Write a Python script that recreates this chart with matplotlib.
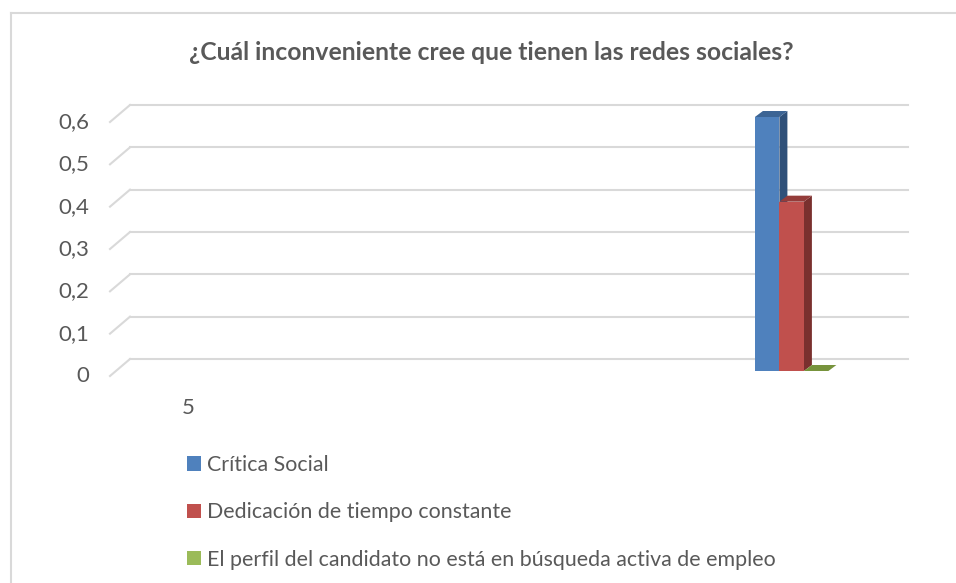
import numpy as np
import matplotlib
matplotlib.use("Agg")
import matplotlib.pyplot as plt
from matplotlib.transforms import offset_copy, IdentityTransform
from matplotlib.patches import Polygon, Patch
from matplotlib.lines import Line2D

# ---- data ----
title = "¿Cuál inconveniente cree que tienen las redes sociales?"
categories = ["5", "", "", "", ""]
series_names = ["Crítica Social",
                "Dedicación de tiempo constante",
                "El perfil del candidato no está en búsqueda activa de empleo"]
critica = [np.nan, np.nan, np.nan, np.nan, 0.6]
dedicacion = [np.nan, np.nan, np.nan, np.nan, 0.4]
perfil = [np.nan, np.nan, np.nan, np.nan, 0.0]
y_ticks = [0, 0.1, 0.2, 0.3, 0.4, 0.5, 0.6]
y_tick_labels = ["0", "0,1", "0,2", "0,3", "0,4", "0,5", "0,6"]

front_colors = ["#4F81BD", "#C0504D", "#9BBB59"]
top_colors = ["#3C6494", "#943C3A", "#77933C"]
side_colors = ["#2F5079", "#7A302E", "#607A2E"]

plt.rcParams['font.family'] = ['Lato', 'DejaVu Sans']
TXT = "#595959"
GRID = "#D9D9D9"

W, H = 956, 583
fig = plt.figure(figsize=(W / 100, H / 100), dpi=100)
fig.patch.set_facecolor("white")

# front plane of the plot area (pixels)
fx0, fx1 = 110, 888
fy0, fy1 = 376, 122  # y=0 and y=0.6 (from top)
ax = fig.add_axes([fx0 / W, 1 - fy0 / H, (fx1 - fx0) / W, (fy0 - fy1) / H])
ax.set_xlim(-0.522, 4.685)
ax.set_ylim(0, 0.6)
ax.axis("off")

DX, DY = 20, 17    # depth of the wall
BDX, BDY = 6, 5    # bar front plane offset
BW_DX, BW_DY = 8, 6  # bar depth

back = offset_copy(ax.transData, fig=fig, x=DX, y=DY, units='dots')
xl = ax.get_xlim()
for t in y_ticks:
    ax.plot([xl[0], xl[1]], [t, t], color=GRID, lw=1.5, transform=back,
            clip_on=False, zorder=1)
    p = ax.transData.transform((xl[0], t))
    fig.add_artist(Line2D([p[0], p[0] + DX], [p[1], p[1] + DY], color=GRID,
                          lw=1.5, transform=IdentityTransform()))

# tick labels
for t, lab in zip(y_ticks, y_tick_labels):
    ax.text(xl[0], t, lab, transform=offset_copy(ax.transData, fig=fig, x=-21, y=0, units='dots'),
            ha='right', va='center', fontsize=16, color=TXT)
for i, c in enumerate(categories):
    if c:
        ax.text(i, 0, c, transform=offset_copy(ax.transData, fig=fig, x=0, y=-32, units='dots'),
                ha='center', va='center', fontsize=16, color=TXT)

# bars
bw = 0.164
bar_tr = offset_copy(ax.transData, fig=fig, x=BDX, y=BDY, units='dots')
all_series = [critica, dedicacion, perfil]
for k, vals in enumerate(all_series):
    z = 5 + k
    for i, v in enumerate(vals):
        if np.isnan(v):
            continue
        x0 = i + (k - 1.5) * bw
        x1 = x0 + bw
        ax.bar(x0, v, width=bw, align='edge', color=front_colors[k],
               transform=bar_tr, zorder=z + 0.2, clip_on=False)
        a = ax.transData.transform((x0, v)) + [BDX, BDY]
        b = ax.transData.transform((x1, v)) + [BDX, BDY]
        c0 = ax.transData.transform((x1, 0)) + [BDX, BDY]
        d = np.array([BW_DX, BW_DY])
        top = Polygon([a, b, b + d, a + d], closed=True, facecolor=top_colors[k],
                      edgecolor='none', transform=IdentityTransform(), zorder=z + 0.1,
                      clip_on=False)
        ax.add_patch(top)
        if v > 0:
            side = Polygon([c0, b, b + d, c0 + d], closed=True, facecolor=side_colors[k],
                           edgecolor='none', transform=IdentityTransform(), zorder=z,
                           clip_on=False)
            ax.add_patch(side)

# title
fig.text(491 / W, 1 - 53 / H, title, ha='center', va='center', fontsize=17.8,
         fontweight='bold', color=TXT)

# legend
handles = [Patch(facecolor=c, edgecolor='none') for c in front_colors]
leg = fig.legend(handles, series_names, loc='upper left',
                 bbox_to_anchor=(187 / W, 1 - 455 / H), frameon=False,
                 fontsize=15.4, labelcolor=TXT, handlelength=0.65, handleheight=0.65,
                 handletextpad=0.28, labelspacing=1.28, borderaxespad=0, borderpad=0)

# chart border
fig.add_artist(Line2D([11, 11], [0, H - 13], color=GRID, lw=1.5, transform=IdentityTransform()))
fig.add_artist(Line2D([11, W], [H - 13, H - 13], color=GRID, lw=1.5, transform=IdentityTransform()))

fig.savefig("out.png", dpi=100, facecolor="white")
